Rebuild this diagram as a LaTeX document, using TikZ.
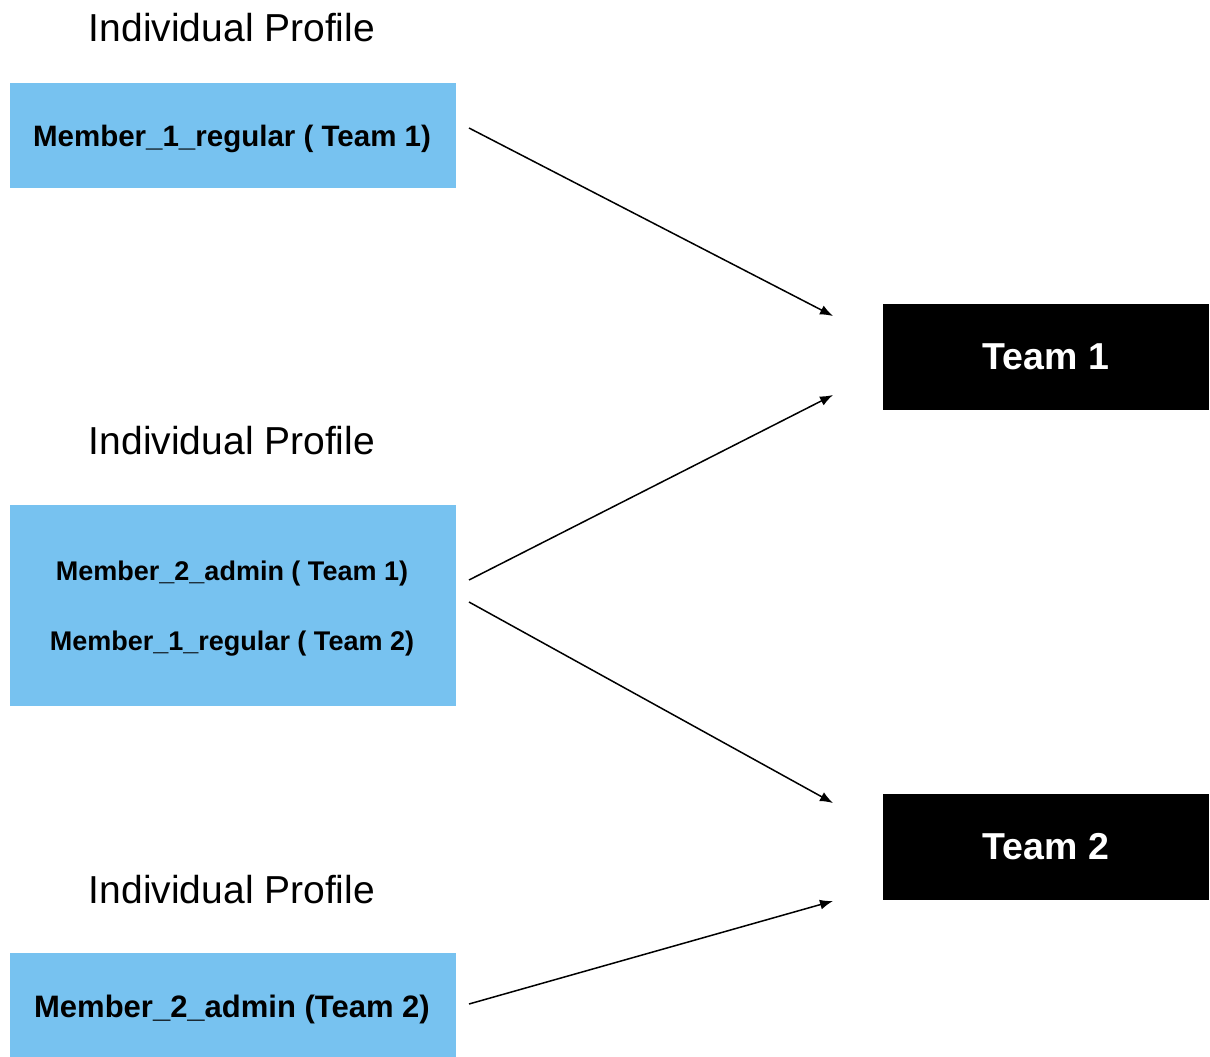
\documentclass[tikz,border=0pt]{standalone}
\usepackage{fontspec}
\setmainfont{Liberation Sans}
\usetikzlibrary{arrows.meta}
\definecolor{profileblue}{RGB}{119,194,240}
\tikzset{
  heading/.style={font=\fontsize{39}{42}\selectfont, inner sep=0pt},
  profilebox/.style={fill=profileblue, draw=none, minimum width=446pt, inner sep=0pt},
  member/.style={font=\bfseries\fontsize{#1}{#1}\selectfont, inner sep=0pt},
  teambox/.style={fill=black, draw=none, minimum width=326pt, minimum height=106pt,
    text=white, font=\bfseries\fontsize{37.5}{40}\selectfont, inner sep=0pt},
  link/.style={line width=1.5pt, -{Latex[length=13pt,width=10pt]}}
}
\begin{document}
\begin{tikzpicture}[x=1pt,y=-1pt]
  \useasboundingbox (0,0) rectangle (1210,1057);

  % profile column
  \node[heading] (h1) at (232,28) {Individual Profile};
  \node[profilebox, minimum height=105pt] (p1) at (233,135.5) {};
  \node[member=29.5] (m1) at (232,139) {Member\_1\_regular ( Team 1)};

  \node[heading] (h2) at (232,441) {Individual Profile};
  \node[profilebox, minimum height=201pt] (p2) at (233,605.5) {};
  \node[member=27] (m2a) at (232,574) {Member\_2\_admin ( Team 1)};
  \node[member=27] (m2b) at (232,644) {Member\_1\_regular ( Team 2)};

  \node[heading] (h3) at (232,890) {Individual Profile};
  \node[profilebox, minimum height=104pt] (p3) at (233,1005) {};
  \node[member=31] (m3) at (232,1009) {Member\_2\_admin (Team 2)};

  % team column
  \node[teambox] (t1) at (1046,357) {Team 1};
  \node[teambox] (t2) at (1046,846.5) {Team 2};

  % connector ends
  \coordinate (a1) at (469,128);
  \coordinate (b1) at (833,316);
  \coordinate (a2) at (469,580);
  \coordinate (b2) at (833,395);
  \coordinate (a3) at (469,602);
  \coordinate (b3) at (833,803);
  \coordinate (a4) at (469,1004);
  \coordinate (b4) at (833,901);

  \draw[link] (a1) -- (b1);
  \draw[link] (a2) -- (b2);
  \draw[link] (a3) -- (b3);
  \draw[link] (a4) -- (b4);
\end{tikzpicture}
\end{document}
